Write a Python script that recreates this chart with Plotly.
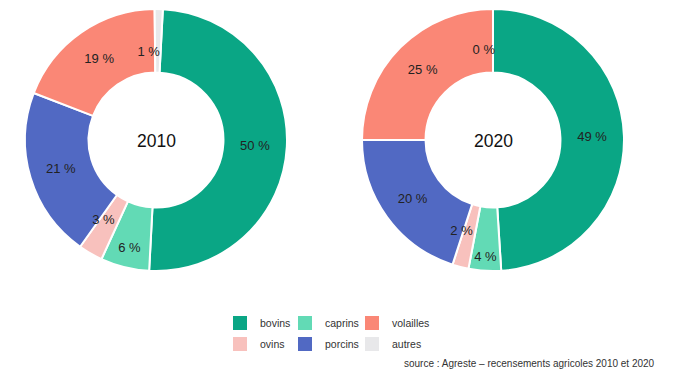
import plotly.graph_objects as go

categories = ["bovins", "caprins", "ovins", "porcins", "volailles", "autres"]
values_2010 = [50, 6, 3, 21, 19, 1]
values_2020 = [49, 4, 2, 20, 25, 0]
years = ["2010", "2020"]
colors = ["#0aa685", "#62dab5", "#f8c1bd", "#5169c3", "#fa8776", "#e8e8ea"]
legend_columns = [["bovins", "ovins"], ["caprins", "porcins"], ["volailles", "autres"]]
source_text = "source : Agreste \u2013 recensements agricoles 2010 et 2020"

FONT = "Liberation Sans, Arial, sans-serif"
W, H = 675, 372
OFF = 8            # page body margin compensation (px)
R_OUT = 131        # outer radius of the donuts (px)
R_LAB = 95         # radius of the label ring used for the thin slices (px)
LAB_DX, LAB_DY = -9, 4   # small offset of the thin-slice label ring (px)
SMALL = 4          # slices below this share get their label on the inner ring
LABEL_FONT = dict(family=FONT, size=13, color="#222222")


def px_x(x):
    return (x - OFF) / W


def px_y(y):
    return 1 - (y - OFF) / H


fig = go.Figure()

pie_specs = [(values_2010, 156, 140, 3), (values_2020, 493, 140, 0)]
for vals, cx, cy, rot in pie_specs:
    big_pos = ["inside" if v >= SMALL else "none" for v in vals]
    small_pos = ["inside" if v < SMALL else "none" for v in vals]
    # main donut
    fig.add_trace(go.Pie(
        labels=categories, values=vals, sort=False, direction="clockwise",
        rotation=rot, hole=0.515,
        marker=dict(colors=colors, line=dict(color="white", width=2)),
        texttemplate="%{value} %", textposition=big_pos,
        insidetextorientation="horizontal", insidetextfont=LABEL_FONT,
        domain=dict(x=[px_x(cx - R_OUT), px_x(cx + R_OUT)],
                    y=[px_y(cy + R_OUT), px_y(cy - R_OUT)]),
        showlegend=False, hoverinfo="label+value",
    ))
    # transparent label ring for the thin slices
    lx, ly = cx + LAB_DX, cy + LAB_DY
    fig.add_trace(go.Pie(
        labels=categories, values=vals, sort=False, direction="clockwise",
        rotation=rot, hole=0,
        marker=dict(colors=["rgba(0,0,0,0)"] * len(vals), line=dict(width=0)),
        texttemplate="%{value} %", textposition=small_pos,
        insidetextorientation="horizontal", insidetextfont=LABEL_FONT,
        domain=dict(x=[px_x(lx - R_LAB), px_x(lx + R_LAB)],
                    y=[px_y(ly + R_LAB), px_y(ly - R_LAB)]),
        showlegend=False, hoverinfo="skip",
    ))

color_of = dict(zip(categories, colors))
legend_names = ["legend", "legend2", "legend3"]
for legend_name, column in zip(legend_names, legend_columns):
    for name in column:
        fig.add_trace(go.Scatter(
            x=[None], y=[None], mode="markers", name=name,
            marker=dict(symbol="square", size=14, color=color_of[name]),
            legend=legend_name, legendgroup=name, showlegend=True,
        ))

annotations = []
for year, (_, cx, cy, _) in zip(years, pie_specs):
    annotations.append(dict(
        text=year, x=px_x(cx), y=px_y(cy + 1), xref="paper", yref="paper",
        xanchor="center", yanchor="middle", showarrow=False,
        font=dict(family=FONT, size=17.5, color="#111111"),
    ))
annotations.append(dict(
    text=source_text, x=px_x(657), y=px_y(363), xref="paper", yref="paper",
    xanchor="right", yanchor="middle", showarrow=False,
    font=dict(family=FONT, size=10, color="#333333"),
))

legend_common = dict(
    orientation="v", xanchor="left", yanchor="middle",
    font=dict(family=FONT, size=10.5, color="#333333"),
    bgcolor="rgba(0,0,0,0)", itemclick=False, itemdoubleclick=False,
    tracegroupgap=2,
)
legend_layout = {}
for legend_name, col_x in zip(legend_names, [220, 285, 352]):
    legend_layout[legend_name] = dict(x=px_x(col_x), y=px_y(333.5), **legend_common)

fig.update_layout(
    width=W, height=H,
    margin=dict(l=0, r=0, t=0, b=0),
    paper_bgcolor="white", plot_bgcolor="white",
    font=dict(family=FONT),
    uniformtext=dict(minsize=13, mode="show"),
    xaxis=dict(visible=False), yaxis=dict(visible=False),
    annotations=annotations,
    **legend_layout,
)

fig.write_html("out.html")
